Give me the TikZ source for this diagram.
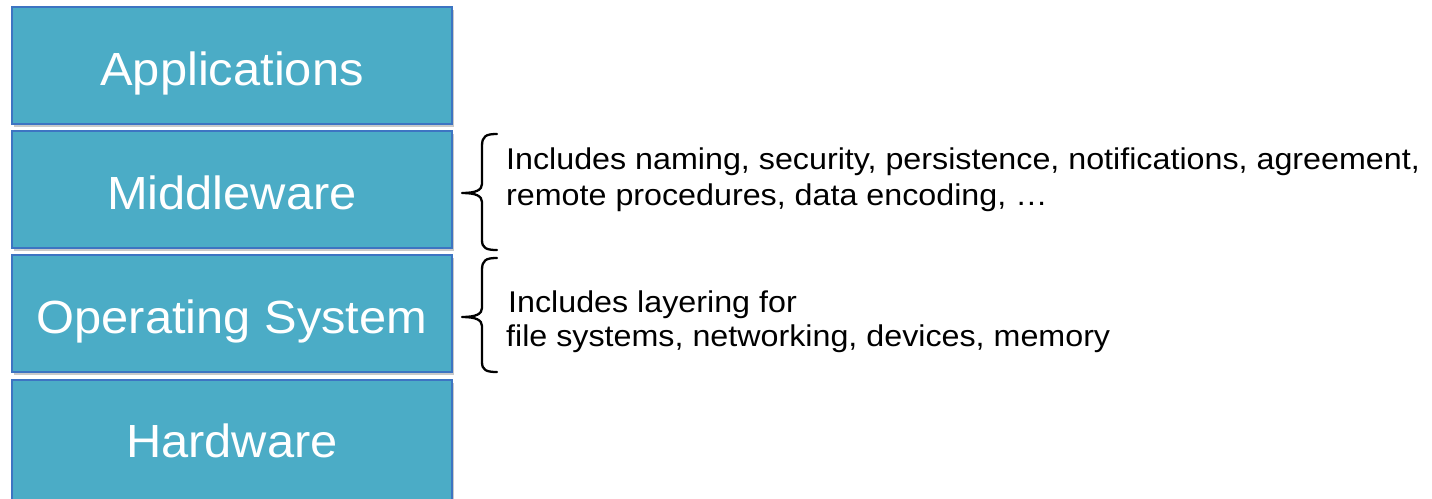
\documentclass[tikz,border=0pt]{standalone}
\usepackage{fontspec}
\setmainfont{Liberation Sans}
\newfontfamily\notefont[FakeStretch=1.075]{Liberation Sans}
\newfontfamily\layerfont[FakeStretch=1.05]{Liberation Sans}
\usetikzlibrary{shadows}
\definecolor{layerfill}{HTML}{4BACC6}
\definecolor{layerborder}{HTML}{3D74C2}
\tikzset{
  layer/.style={draw=layerborder, line width=2pt, fill=layerfill,
    drop shadow={shadow xshift=2pt, shadow yshift=-2.5pt, opacity=0.35, fill=black!60}},
  layertext/.style={text=white, font=\layerfont\fontsize{46.5}{56}\selectfont, anchor=base, inner sep=0pt},
  notetext/.style={text=black, font=\notefont\fontsize{30}{34}\selectfont, anchor=base west, inner sep=0pt},
  bracestyle/.style={draw=black, line width=2.3pt, line cap=round, line join=round}
}
\begin{document}
\begin{tikzpicture}[x=1pt,y=-1pt]
\useasboundingbox (0,0) rectangle (1432,498);
\clip (0,0) rectangle (1432,498);
\fill[white] (0,0) rectangle (1432,498);
% layers
\path[layer] (12,7) rectangle (452,124);
\path[layer] (12,131) rectangle (452,248);
\path[layer] (12,255) rectangle (452,372);
\path[layer] (12,380) rectangle (452,510);
\node[layertext] (apps) at (232,85) {Applications};
\node[layertext] (mid) at (232,209) {Middleware};
\node[layertext] (os) at (232,333) {Operating System};
\node[layertext] (hw) at (232,457) {Hardware};
% braces
\draw[bracestyle] (497,134) .. controls (486,134) and (482,136) .. (482,146) -- (482,184)
  .. controls (482,190) and (476,193) .. (462,193)
  .. controls (476,193) and (482,196) .. (482,202) -- (482,240)
  .. controls (482,248) and (486,250) .. (497,250);
\draw[bracestyle] (497,258) .. controls (486,258) and (482,260) .. (482,270) -- (482,308)
  .. controls (482,314) and (476,317) .. (462,317)
  .. controls (476,317) and (482,320) .. (482,326) -- (482,362)
  .. controls (482,370) and (486,372) .. (497,372);
% notes
\node[notetext] (mid1) at (506,169) {Includes naming, security, persistence, notifications, agreement,};
\node[notetext] (mid2) at (506,205) {remote procedures, data encoding, \ldots};
\node[notetext] (os1) at (508,312) {Includes layering for};
\node[notetext] (os2) at (506,346) {file systems, networking, devices, memory};
\end{tikzpicture}
\end{document}
